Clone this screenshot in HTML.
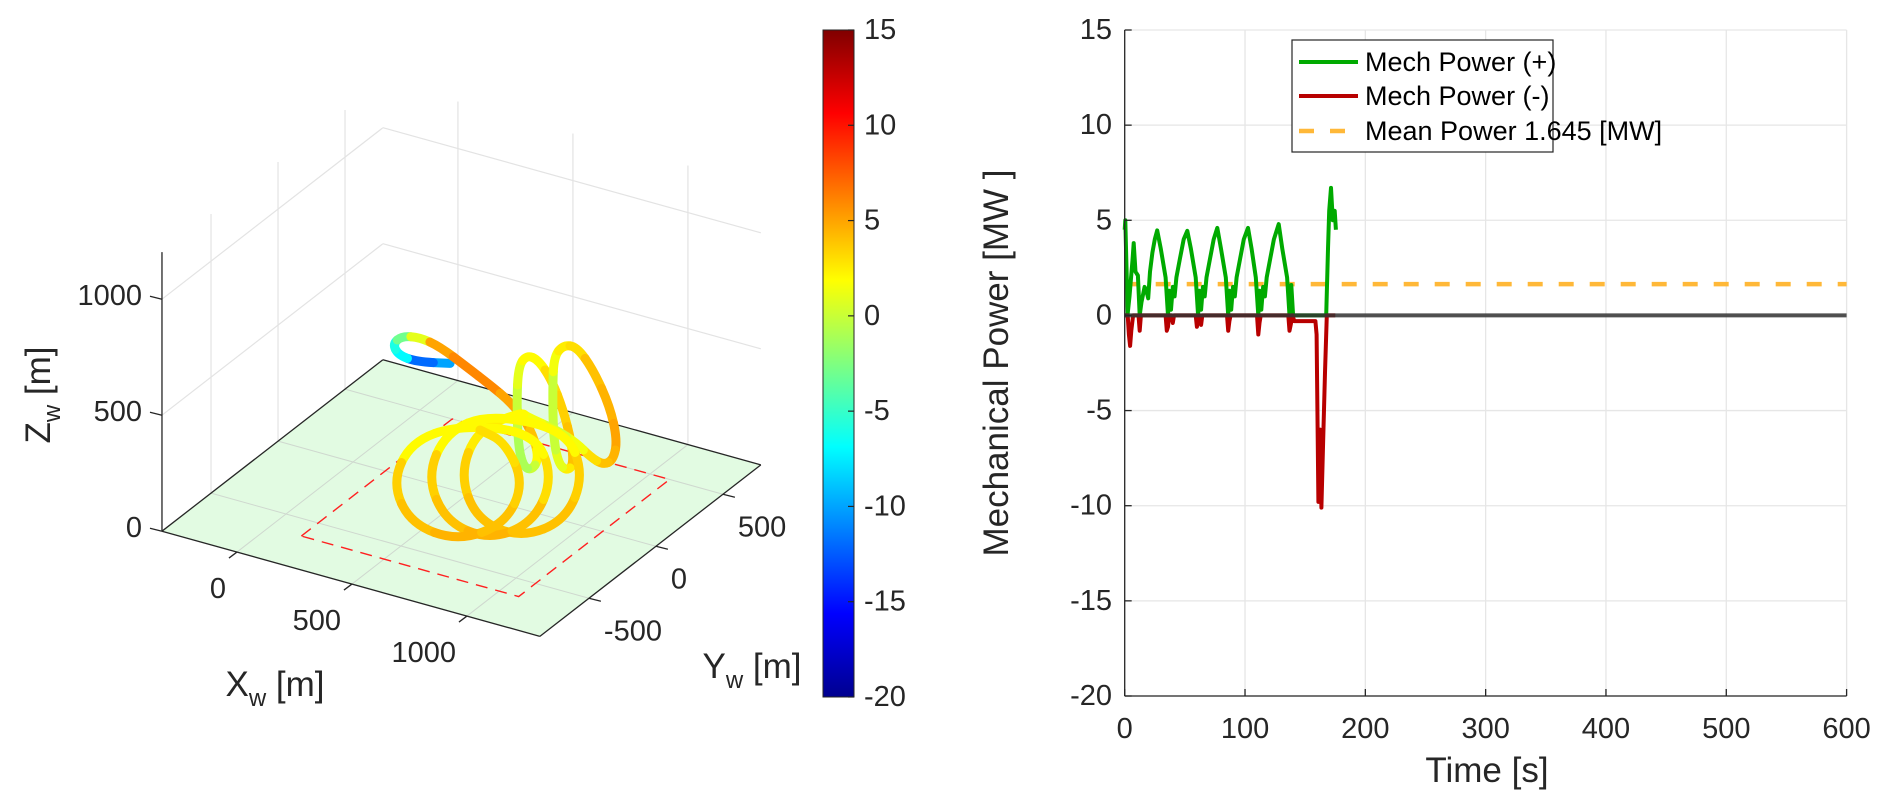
<!DOCTYPE html>
<html><head><meta charset="utf-8"><title>Trajectory and Mechanical Power</title>
<style>
html,body{margin:0;padding:0;background:#fff;}
svg{display:block;font-family:"Liberation Sans",Arial,sans-serif;}
</style></head>
<body>
<svg id="fig" width="1892" height="807" viewBox="0 0 1892 807" xmlns="http://www.w3.org/2000/svg">
<defs>
<linearGradient id="jet" x1="0" y1="1" x2="0" y2="0">
<stop offset="0" stop-color="#00008f"/>
<stop offset="0.125" stop-color="#0000ff"/>
<stop offset="0.375" stop-color="#00ffff"/>
<stop offset="0.625" stop-color="#ffff00"/>
<stop offset="0.875" stop-color="#ff0000"/>
<stop offset="1" stop-color="#800000"/>
</linearGradient>
</defs>
<g id="left"></g>
<g id="cbar"></g>
<g id="right"></g>
</svg>
<script>
// ---------- 3D trajectory data ----------
const xTicks3d = [0, 500, 1000];
const yTicks3d = [-500, 0, 500];
const zTicks3d = [0, 500, 1000];
const xTickLabels3d = ["0", "500", "1000"];
const yTickLabels3d = ["-500", "0", "500"];
const zTickLabels3d = ["0", "500", "1000"];
const areaX = [140, 1085];
const areaY = [-626, 500];
const trajX = [655,510,430,406,445,524,611,727,829,916,981,1024,1039,1010,974,952,945,952,988,1039,1097,1147,1184,1191,1162,1126,1104,1101,1107,1147,1206,1278,1350,1382,1365,1321,1264,1206,1119,988,964,772,698,772,964,1159,1237,1159,829,637,555,637,829,1020,1103,1020,690,485,403,485,690,894,977,894,785];
const trajY = [-400,-400,-400,-400,-400,-400,-400,-400,-400,-400,-400,-400,-400,-400,-400,-400,-400,-400,-400,-400,-400,-400,-400,-400,-400,-400,-400,-400,-400,-400,-400,-400,-400,-400,-400,-400,-400,-400,-400,-400,-400,-400,-400,-400,-400,-400,-400,-400,-400,-400,-400,-400,-400,-400,-400,-400,-400,-400,-400,-400,-400,-400,-400,-400,-400];
const trajZ = [785,752,759,800,845,861,845,790,740,692,631,556,475,423,428,508,693,853,913,906,835,720,587,495,462,484,593,808,938,1000,1009,928,790,655,565,531,551,593,626,647,661,530,316,142,118,249,465,637,615,484,268,97,72,202,419,590,529,399,200,46,29,159,358,512,534];
const trajC = [-10,-12,-7,-6,-3,1,5,6,6,5,5,4,2,0,-1,-1,0,1,2,2,3,3.5,4,4,2.5,1,0,0,1.5,2.5,3,4,4.5,5,4.5,4,3,1.5,0.5,1.5,2,2.5,3.5,4,4,4,3.5,2,2,2,3.5,4,4.5,4,3,2,2,2,3.5,4,4.5,4,3.5,3,3];
const cbarTicks = [-20,-15,-10,-5,0,5,10,15];

// ---------- power data ----------
const tPos = [0,0.5,1.5,2.5,4,6.5,7.5,9,11,12.5,14,16.5,18,19.5,21,23,25,27,
30,34,36,37,38.5,40,41.5,43,46,49,52,
55,59,61,62,63.5,65,66.5,68,71,74,77,
80,84,86,87,88.5,90,91.5,93,96,99,102.5,
105.5,109,111,112,113.5,115,116.5,118,121,124,128,
131,135,137,138.5,140,150,160,167.5,169,170,171.5,173,174.5,175.5];
const pPos = [4.5,5.0,2.5,0.1,1.0,2.9,3.8,2.3,2.1,0,0.7,1.5,1.3,0.9,2.3,3.3,4.0,4.47,
3.5,2,0,1.3,0.3,1.5,1.0,2.0,3.0,4.0,4.45,
3.5,2,0,1.3,0.3,1.5,1.0,2.0,3.0,4.0,4.6,
3.5,2,0,1.3,0.3,1.5,1.0,2.0,3.0,4.0,4.6,
3.5,2,0,1.3,0.3,1.5,1.0,2.0,3.0,4.0,4.8,
3.5,2,0,1.6,0,0,0,0,3.5,5.5,6.7,5.0,5.5,4.5];
const tNeg = [0,2.5,3.5,4.5,5.5,7,11.5,12.5,13.5,15,34,35,36,37,39,40,41,42,59,60,61,62,63.5,64.5,66,85,86,87,88,110,111,112,113,136,137,138,139.5,141,157,158.5,159.5,161,162.4,163.5,165,166.5,168,175];
const pNeg = [0,0,-1.0,-1.6,-0.8,0,0,-0.8,0,0,0,-0.8,-0.6,0,0,-0.4,0,0,0,-0.6,-0.2,0,-0.5,0,0,0,-0.8,-0.3,0,0,-1.0,-0.4,0,0,-0.8,-0.5,0,-0.3,-0.3,-0.3,-1.0,-9.8,-6,-10.1,-6.5,-3,0,0];
const meanPower = [1.645];
const xTicksP = [0,100,200,300,400,500,600];
const yTicksP = [-20,-15,-10,-5,0,5,10,15];
const legendLabels = ["Mech Power (+)","Mech Power (-)","Mean Power 1.645 [MW]"];

const NS = "http://www.w3.org/2000/svg";
function mk(parent, tag, attrs, text){
  const e = document.createElementNS(NS, tag);
  for (const k in attrs) e.setAttribute(k, attrs[k]);
  if (text !== undefined) e.textContent = text;
  parent.appendChild(e);
  return e;
}

// ---------- 3D projection ----------
const XMIN=-326, XMAX=1317, YMIN=-866, YMAX=783, ZMAX=1203;
function P(x,y,z){ return [353 + 0.23*x + 0.134*y, 462 + 0.064*x - 0.104*y - 0.232*z]; }
function jet(v){
  const t = (v - (-20)) / 35;
  const r = Math.max(0, Math.min(1, Math.min(4*t - 1.5, -4*t + 4.5)));
  const g = Math.max(0, Math.min(1, Math.min(4*t - 0.5, -4*t + 3.5)));
  const b = Math.max(0, Math.min(1, Math.min(4*t + 0.5, -4*t + 2.5)));
  return "rgb(" + Math.round(r*255) + "," + Math.round(g*255) + "," + Math.round(b*255) + ")";
}
const L = document.getElementById("left");
function line3(g, a, b, st, w, name){
  const p = P(...a), q = P(...b);
  const el = mk(g, "line", {x1:p[0],y1:p[1],x2:q[0],y2:q[1],stroke:st,"stroke-width":w});
  
  
  return el;
}
{
  const c = [P(XMIN,YMIN,0),P(XMIN,YMAX,0),P(XMAX,YMAX,0),P(XMAX,YMIN,0)];
  const fl = mk(L, "polygon", {points:c.map(p=>p.join(",")).join(" "), fill:"#e2fbe2", stroke:"none"});
  
  
}
xTicks3d.forEach(x=>{
  line3(L,[x,YMIN,0],[x,YMAX,0],"#cfd8cf",1,"floor-grid-x");
  line3(L,[x,YMAX,0],[x,YMAX,ZMAX],"#e3e3e3",1.2,"wall-grid-x");
});
yTicks3d.forEach(y=>{
  line3(L,[XMIN,y,0],[XMAX,y,0],"#cfd8cf",1,"floor-grid-y");
  line3(L,[XMIN,y,0],[XMIN,y,ZMAX],"#e3e3e3",1.2,"wall-grid-y");
});
zTicks3d.slice(1).forEach(z=>{
  line3(L,[XMIN,YMIN,z],[XMIN,YMAX,z],"#e3e3e3",1.2,"wall-grid-z");
  line3(L,[XMIN,YMAX,z],[XMAX,YMAX,z],"#e3e3e3",1.2,"wall-grid-z");
});
line3(L,[XMIN,YMIN,0],[XMAX,YMIN,0],"#262626",1.3,"x-axis-line");
line3(L,[XMAX,YMIN,0],[XMAX,YMAX,0],"#262626",1.3,"y-axis-line");
line3(L,[XMIN,YMIN,0],[XMIN,YMAX,0],"#262626",1.3,"floor-edge");
line3(L,[XMIN,YMAX,0],[XMAX,YMAX,0],"#262626",1.3,"floor-edge");
line3(L,[XMIN,YMIN,0],[XMIN,YMIN,ZMAX],"#262626",1.3,"z-axis-line");
{
  const c = [P(areaX[0],areaY[0],0),P(areaX[0],areaY[1],0),P(areaX[1],areaY[1],0),P(areaX[1],areaY[0],0)];
  const r = mk(L, "polygon", {points:c.map(p=>p.join(",")).join(" "), fill:"none", stroke:"#ff2020","stroke-width":1.4,"stroke-dasharray":"12 8"});
  
  
}
xTicks3d.forEach((x,i)=>{
  const p = P(x,YMIN,0);
  const t = mk(L,"line",{x1:p[0],y1:p[1],x2:p[0]-8,y2:p[1]+6,stroke:"#262626","stroke-width":1.3});
  
  
  const lb = mk(L,"text",{x:p[0]-11,y:p[1]+37,"font-size":29,fill:"#262626","text-anchor":"end","dominant-baseline":"central"},xTickLabels3d[i]);
  
  
});
yTicks3d.forEach((y,i)=>{
  const p = P(XMAX,y,0);
  const t = mk(L,"line",{x1:p[0],y1:p[1],x2:p[0]+12,y2:p[1]+3,stroke:"#262626","stroke-width":1.3});
  
  
  const lb = mk(L,"text",{x:p[0]+15,y:p[1]+33,"font-size":29,fill:"#262626","dominant-baseline":"central"},yTickLabels3d[i]);
  
  
});
zTicks3d.forEach((z,i)=>{
  const p = P(XMIN,YMIN,z);
  const t = mk(L,"line",{x1:p[0],y1:p[1],x2:p[0]-12,y2:p[1]-3,stroke:"#262626","stroke-width":1.3});
  
  
  const lb = mk(L,"text",{x:142,y:p[1]-3,"font-size":29,fill:"#262626","text-anchor":"end","dominant-baseline":"central"},zTickLabels3d[i]);
  
  
});
{
  const xl = mk(L,"text",{x:275,y:696,"font-size":35,fill:"#262626","text-anchor":"middle"});
  
  
  xl.innerHTML = 'X<tspan font-size="24" dy="10">w</tspan><tspan dy="-10"> [m]</tspan>';
  const yl = mk(L,"text",{x:752,y:678,"font-size":35,fill:"#262626","text-anchor":"middle"});
  
  
  yl.innerHTML = 'Y<tspan font-size="24" dy="10">w</tspan><tspan dy="-10"> [m]</tspan>';
  const zl = mk(L,"text",{x:50,y:395,"font-size":35,fill:"#262626","text-anchor":"middle",transform:"rotate(-90 50 395)"});
  
  
  zl.innerHTML = 'Z<tspan font-size="24" dy="10">w</tspan><tspan dy="-10"> [m]</tspan>';
}
{
  const g = mk(L,"g",{});
  
  
  const pts = trajX.map((x,i)=>P(x,trajY[i],trajZ[i]));
  const n = pts.length;
  const mid = (a,b)=>[(a[0]+b[0])/2,(a[1]+b[1])/2];
  for (let i=0;i<n;i++){
    const s = i===0 ? pts[0] : mid(pts[i-1],pts[i]);
    const e = i===n-1 ? pts[n-1] : mid(pts[i],pts[i+1]);
    const seg = mk(g,"path",{d:"M"+s[0]+","+s[1]+" Q"+pts[i][0]+","+pts[i][1]+" "+e[0]+","+e[1],
      fill:"none",stroke:jet(trajC[i]),"stroke-width":9,"stroke-linecap":"round"});
    
    
  }
}
{
  const C = document.getElementById("cbar");
  const top=30, bot=697, x0=823, x1=854;
  const cy = v => bot - (v+20)/35*(bot-top);
  const r = mk(C,"rect",{x:x0,y:top,width:x1-x0,height:bot-top,fill:"url(#jet)",stroke:"#262626","stroke-width":1});
  
  
  cbarTicks.forEach(v=>{
    const t = mk(C,"line",{x1:x1-6,y1:cy(v),x2:x1,y2:cy(v),stroke:"#262626","stroke-width":1.2});
    
    
    const lb = mk(C,"text",{x:864,y:cy(v),"font-size":29,fill:"#262626","dominant-baseline":"central"},String(v));
    
    
  });
}
{
  const R = document.getElementById("right");
  const X0=1124.7, X1=1846.6, Y0=696, Y1=30;
  const sx = t => X0 + t/600*(X1-X0);
  const sy = v => Y0 - (v+20)/35*(Y0-Y1);
  const bg = mk(R,"rect",{x:X0,y:Y1,width:X1-X0,height:Y0-Y1,fill:"#fff"});
  
  
  xTicksP.forEach(t=>{
    const gl = mk(R,"line",{x1:sx(t),y1:Y1,x2:sx(t),y2:Y0,stroke:"#e6e6e6","stroke-width":1.3});
    
    
  });
  yTicksP.forEach(v=>{
    const gl = mk(R,"line",{x1:X0,y1:sy(v),x2:X1,y2:sy(v),stroke:"#e6e6e6","stroke-width":1.3});
    
    
  });
  const toPath = (ts,vs)=>ts.map((t,i)=>(i?"L":"M")+sx(t).toFixed(1)+","+sy(vs[i]).toFixed(1)).join(" ");
  const mean = mk(R,"line",{x1:X0,y1:sy(meanPower[0]),x2:X1,y2:sy(meanPower[0]),stroke:"#ffb838","stroke-width":4.5,"stroke-dasharray":"15 16"});
  
  
  const gp = mk(R,"path",{d:toPath(tPos,pPos),fill:"none",stroke:"#00aa00","stroke-width":4,"stroke-linejoin":"round"});
  
  
  const rp = mk(R,"path",{d:toPath(tNeg,pNeg),fill:"none",stroke:"#b80000","stroke-width":4,"stroke-linejoin":"round"});
  
  
  const zl = mk(R,"line",{x1:X0,y1:sy(0),x2:X1,y2:sy(0),stroke:"#333","stroke-opacity":0.85,"stroke-width":4});
  
  
  const ax1 = mk(R,"line",{x1:X0,y1:Y1,x2:X0,y2:Y0,stroke:"#262626","stroke-width":1.3});
  
  
  const ax2 = mk(R,"line",{x1:X0,y1:Y0,x2:X1,y2:Y0,stroke:"#262626","stroke-width":1.3});
  
  
  xTicksP.forEach(t=>{
    const tk = mk(R,"line",{x1:sx(t),y1:Y0,x2:sx(t),y2:Y0-7,stroke:"#262626","stroke-width":1.3});
    
    
    const lb = mk(R,"text",{x:sx(t),y:Y0+33,"font-size":29,fill:"#262626","text-anchor":"middle","dominant-baseline":"central"},String(t));
    
    
  });
  yTicksP.forEach(v=>{
    const tk = mk(R,"line",{x1:X0,y1:sy(v),x2:X0+7,y2:sy(v),stroke:"#262626","stroke-width":1.3});
    
    
    const lb = mk(R,"text",{x:1112,y:sy(v),"font-size":29,fill:"#262626","text-anchor":"end","dominant-baseline":"central"},String(v));
    
    
  });
  const xt = mk(R,"text",{x:1487,y:782,"font-size":35,fill:"#262626","text-anchor":"middle"},"Time [s]");
  
  
  const yt = mk(R,"text",{x:1008,y:363,"font-size":35,fill:"#262626","text-anchor":"middle",transform:"rotate(-90 1008 363)"},"Mechanical Power [MW ]");
  
  
  const lg = mk(R,"g",{});
  
  
  const lbox = mk(lg,"rect",{x:1292,y:40,width:261,height:112,fill:"#fff",stroke:"#262626","stroke-width":1.2});
  
  
  const cols = ["#00aa00","#b80000","#ffb838"];
  const rows = [62,96,131];
  legendLabels.forEach((txt,i)=>{
    const ln = mk(lg,"line",{x1:1299,y1:rows[i],x2:1358,y2:rows[i],stroke:cols[i],"stroke-width":i==2?4.5:4,"stroke-dasharray":i==2?"15 16":"none"});
    
    
    const tx = mk(lg,"text",{x:1365,y:rows[i],"font-size":27,fill:"#000","dominant-baseline":"central"},txt);
    
    
  });
}
</script>
</body></html>
